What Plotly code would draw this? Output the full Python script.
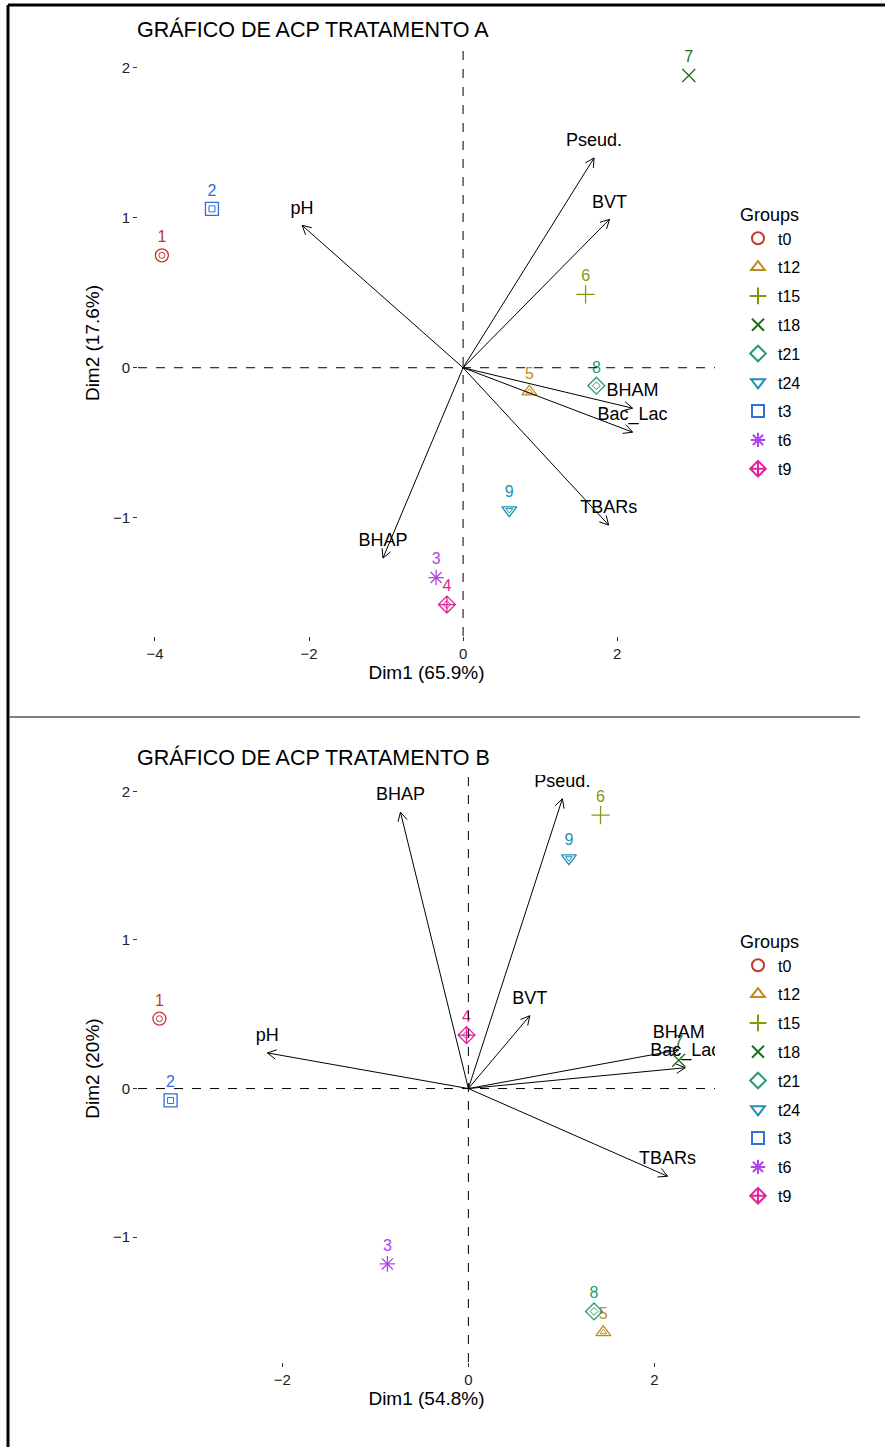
import math
import plotly.graph_objects as go

# ---------------- data ----------------
groups = ["t0", "t12", "t15", "t18", "t21", "t24", "t3", "t6", "t9"]
group_colors = ["#C0392B", "#C08A1E", "#7F9A0C", "#1B6E1B", "#239B73",
                "#1E90B4", "#2F6FD6", "#B344E8", "#E0249A"]
group_symbols = ["circle-open", "triangle-up-open", "cross-thin-open", "x-thin-open",
                 "diamond-open", "triangle-down-open", "square-open", "asterisk-open",
                 "diamond-cross-open"]
inner_symbols = ["circle-open", "triangle-up-open", None, None, "diamond-open",
                 "triangle-down-open", "square-open", None, "diamond-open"]

# individuals: label number, group
ind_labels = ["1", "2", "3", "4", "5", "6", "7", "8", "9"]
ind_groups = ["t0", "t3", "t6", "t9", "t12", "t15", "t18", "t21", "t24"]

# Treatment A scores
a_dim1 = [-3.91, -3.26, -0.35, -0.21, 0.86, 1.59, 2.93, 1.73, 0.60]
a_dim2 = [0.75, 1.06, -1.40, -1.58, -0.16, 0.49, 1.95, -0.12, -0.95]
# Treatment B scores
b_dim1 = [-3.32, -3.20, -0.87, -0.02, 1.45, 1.42, 2.26, 1.35, 1.08]
b_dim2 = [0.47, -0.08, -1.18, 0.36, -1.64, 1.84, 0.19, -1.50, 1.55]

# variables (loadings, scaled for the biplot)
var_names = ["pH", "Pseud.", "BVT", "BHAM", "Bac_Lac", "TBARs", "BHAP"]
a_var1 = [-2.09, 1.70, 1.90, 2.20, 2.20, 1.89, -1.04]
a_var2 = [0.95, 1.40, 0.99, -0.27, -0.43, -1.05, -1.27]
b_var1 = [-2.16, 1.01, 0.66, 2.26, 2.33, 2.14, -0.73]
b_var2 = [0.24, 1.95, 0.49, 0.26, 0.14, -0.59, 1.86]

titles = ["GRÁFICO DE ACP TRATAMENTO A", "GRÁFICO DE ACP TRATAMENTO B"]
x_titles = ["Dim1 (65.9%)", "Dim1 (54.8%)"]
y_titles = ["Dim2 (17.6%)", "Dim2 (20%)"]

# ---------------- layout geometry ----------------
W, H = 885, 1447
x_px = (138, 715)
panels = [
    dict(y_px=(50, 636), xr=(-4.22, 3.27), yr=(-1.79, 2.12),
         xt=[-4, -2, 0, 2], yt=[-1, 0, 1, 2], title_y=30, leg_y=198),
    dict(y_px=(775, 1362), xr=(-3.55, 2.65), yr=(-1.84, 2.11),
         xt=[-2, 0, 2], yt=[-1, 0, 1, 2], title_y=757, leg_y=925),
]
font = "Liberation Sans, Arial, sans-serif"

fig = go.Figure()


def arrow_segments(vx, vy, sx, sy, head=10, ang=math.radians(28)):
    xs, ys = [], []
    for x, y in zip(vx, vy):
        dx, dy = x * sx, y * sy
        L = math.hypot(dx, dy)
        ux, uy = -dx / L, -dy / L
        pts = []
        for s in (1, -1):
            c, sn = math.cos(s * ang), math.sin(s * ang)
            rx, ry = ux * c - uy * sn, ux * sn + uy * c
            pts.append((x + head * rx / sx, y + head * ry / sy))
        xs += [0, x, None, pts[0][0], x, pts[1][0], None]
        ys += [0, y, None, pts[0][1], y, pts[1][1], None]
    return xs, ys


data_sets = [(a_dim1, a_dim2, a_var1, a_var2), (b_dim1, b_dim2, b_var1, b_var2)]

for k, (p, (d1, d2, v1, v2)) in enumerate(zip(panels, data_sets)):
    sfx = "" if k == 0 else "2"
    xa, ya = "x" + sfx, "y" + sfx
    leg = "legend" + sfx
    sx = (x_px[1] - x_px[0]) / (p["xr"][1] - p["xr"][0])
    sy = (p["y_px"][1] - p["y_px"][0]) / (p["yr"][1] - p["yr"][0])

    # individuals by group
    for g, col, sym, isym in zip(groups, group_colors, group_symbols, inner_symbols):
        idx = [i for i, gg in enumerate(ind_groups) if gg == g]
        xs = [d1[i] for i in idx]
        ys = [d2[i] for i in idx]
        txt = [ind_labels[i] for i in idx]
        fig.add_trace(go.Scatter(
            x=xs, y=ys, xaxis=xa, yaxis=ya, mode="markers+text", name=g,
            text=txt, textposition="top center",
            textfont=dict(family=font, size=16, color=col),
            marker=dict(symbol=sym, size=13, color=col, line=dict(width=1.3, color=col)),
            legend=leg, legendgroup=g + sfx, showlegend=True))
        if isym:
            fig.add_trace(go.Scatter(
                x=xs, y=ys, xaxis=xa, yaxis=ya, mode="markers", showlegend=False,
                hoverinfo="skip",
                marker=dict(symbol=isym, size=6, color=col, line=dict(width=1, color=col))))

    # variable arrows
    ax_x, ax_y = arrow_segments(v1, v2, sx, sy)
    fig.add_trace(go.Scatter(x=ax_x, y=ax_y, xaxis=xa, yaxis=ya, mode="lines",
                             line=dict(color="black", width=1), showlegend=False,
                             hoverinfo="skip"))
    # labels sit just above each arrow tip (transparent marker gives the offset)
    fig.add_trace(go.Scatter(x=v1, y=v2, xaxis=xa, yaxis=ya, mode="markers+text",
                             text=var_names, textposition="top center",
                             marker=dict(size=10, opacity=0),
                             textfont=dict(family=font, size=18, color="black"),
                             showlegend=False, hoverinfo="skip"))

    dom_y = [1 - p["y_px"][1] / H, 1 - p["y_px"][0] / H]
    axis_common = dict(showgrid=False, zeroline=False, showline=False, ticks="outside",
                       ticklen=4, tickcolor="#333333", automargin=False,
                       tickfont=dict(family=font, size=15, color="#222222"))
    fig.update_layout(**{
        "xaxis" + sfx: dict(domain=[x_px[0] / W, x_px[1] / W], range=list(p["xr"]),
                            tickvals=p["xt"], anchor=ya,
                            title=dict(text=x_titles[k], standoff=3,
                                       font=dict(family=font, size=19, color="black")),
                            **axis_common),
        "yaxis" + sfx: dict(domain=dom_y, range=list(p["yr"]), tickvals=p["yt"],
                            anchor=xa,
                            title=dict(text=y_titles[k], standoff=8,
                                       font=dict(family=font, size=19, color="black")),
                            **axis_common),
        leg: dict(x=738 / W, y=1 - p["leg_y"] / H, xanchor="left", yanchor="top",
                  title=dict(text="Groups", font=dict(family=font, size=18, color="black")),
                  font=dict(family=font, size=16, color="black"),
                  traceorder="grouped", tracegroupgap=5, bgcolor="rgba(0,0,0,0)",
                  itemsizing="constant"),
    })

    # dashed reference lines through the origin
    fig.add_shape(type="line", xref=xa, yref=ya + " domain", x0=0, x1=0, y0=0, y1=1,
                  line=dict(color="black", width=1, dash="dash"))
    fig.add_shape(type="line", xref=xa + " domain", yref=ya, x0=0, x1=1, y0=0, y1=0,
                  line=dict(color="black", width=1, dash="dash"))

    fig.add_annotation(text=titles[k], xref="paper", yref="paper", x=135 / W,
                       y=1 - p["title_y"] / H, xanchor="left", yanchor="middle",
                       showarrow=False, font=dict(family=font, size=21.5, color="black"))

# frame and separator
fig.add_shape(type="line", xref="paper", yref="paper", x0=8 / W, x1=8 / W, y0=0,
              y1=1 - 5 / H, line=dict(color="black", width=3))
fig.add_shape(type="line", xref="paper", yref="paper", x0=8 / W, x1=1, y0=1 - 5 / H,
              y1=1 - 5 / H, line=dict(color="black", width=3))
fig.add_shape(type="line", xref="paper", yref="paper", x0=10 / W, x1=860 / W,
              y0=1 - 717 / H, y1=1 - 717 / H, line=dict(color="black", width=1))

fig.update_layout(width=W, height=H, margin=dict(l=0, r=0, t=0, b=0),
                  paper_bgcolor="white", plot_bgcolor="white", hovermode=False)

fig.write_html("out.html")
